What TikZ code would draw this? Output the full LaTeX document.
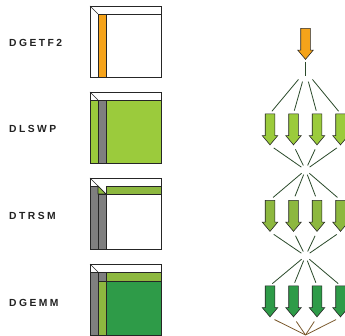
\documentclass[tikz,border=0pt]{standalone}
\usepackage{fontspec}
\newfontfamily\labfont{Liberation Sans}[LetterSpace=24,UprightFont=*-Bold]
\usetikzlibrary{shapes.arrows}
\definecolor{cOrange}{HTML}{F5A31A}
\definecolor{cLight}{HTML}{9BCB3C}
\definecolor{cMid}{HTML}{8DB83F}
\definecolor{cDark}{HTML}{2E9B48}
\definecolor{cGray}{HTML}{7F7F7F}
\definecolor{cLine}{HTML}{2B4A2B}
\definecolor{cBrown}{HTML}{7B5A2E}
\definecolor{cText}{HTML}{222222}
\tikzset{
  lab/.style={anchor=west,inner sep=0pt,text=cText,font=\labfont\fontsize{10.3}{11}\selectfont},
  matbox/.style={draw=black!85,line width=0.7pt,minimum width=71pt,minimum height=71pt,inner sep=0pt,anchor=north west},
  mline/.style={draw=black!85,line width=0.6pt},
  arr/.style={shape=single arrow,rotate=-90,minimum height=31pt,minimum width=15pt,
    single arrow head extend=3pt,single arrow head indent=0pt,single arrow tip angle=80,
    inner xsep=0pt,inner ysep=4.5pt,draw=black!85,line width=0.6pt},
  fan/.style={draw=cLine,line width=0.8pt},
  bfan/.style={draw=cBrown,line width=0.8pt}
}
\begin{document}
\begin{tikzpicture}[x=1pt,y=-1pt]
\useasboundingbox[fill=white] (0,0) rectangle (345,336);

% labels
\node[lab] (l1) at (9,43) {DGETF2};
\node[lab] (l2) at (9,129.2) {DLSWP};
\node[lab] (l3) at (9,216) {DTRSM};
\node[lab] (l4) at (9,302.7) {DGEMM};

% DGETF2
\begin{scope}[shift={(90,6)}]
  \filldraw[mline,fill=cOrange] (8,8) rectangle (16,71);
  \draw[mline] (8,8) -- (71,8);
  \draw[mline] (0,0) -- (8,8);
  \node[matbox] (m1) at (0,0) {};
\end{scope}

% DLSWP
\begin{scope}[shift={(90,92)}]
  \filldraw[mline,fill=cLight] (0,8) rectangle (71,71);
  \filldraw[mline,fill=cGray] (8,8) rectangle (16,71);
  \draw[mline] (0,0) -- (8,8);
  \node[matbox] (m2) at (0,0) {};
\end{scope}

% DTRSM
\begin{scope}[shift={(90,178)}]
  \filldraw[mline,fill=cGray] (0,8) rectangle (8,71);
  \filldraw[mline,fill=cGray] (8,16) rectangle (16,71);
  \filldraw[mline,fill=cMid] (8,8) -- (8,16) -- (16,16) -- cycle;
  \filldraw[mline,fill=cMid] (16,8) rectangle (71,16);
  \draw[mline] (0,0) -- (16,16);
  \node[matbox] (m3) at (0,0) {};
\end{scope}

% DGEMM
\begin{scope}[shift={(90,264)}]
  \filldraw[mline,fill=cGray] (0,8) rectangle (8,71);
  \filldraw[mline,fill=cGray] (8,8) rectangle (16,17);
  \filldraw[mline,fill=cMid] (8,17) rectangle (16,71);
  \filldraw[mline,fill=cMid] (16,8) rectangle (71,17);
  \filldraw[mline,fill=cDark] (16,17) rectangle (71,71);
  \draw[mline] (0,0) -- (8,8);
  \node[matbox] (m4) at (0,0) {};
\end{scope}

% arrows
\node[arr,fill=cOrange] (a0) at (305.5,41) {};
\foreach \i/\x in {1/270,2/293.5,3/317,4/340.5}{
  \node[arr,fill=cLight] (a1\i) at (\x,126.5) {};
  \node[arr,fill=cMid] (a2\i) at (\x,213) {};
  \node[arr,fill=cDark] (a3\i) at (\x,298.5) {};
}

% hubs
\coordinate (stem) at (305.5,76.5);
\coordinate (h1) at (305.5,71);
\coordinate (h2) at (305.5,170);
\coordinate (h3) at (305.5,256);
\coordinate (h4) at (305.5,335);

\draw[fan,shorten <=2pt] (a0.tip) -- (stem);
\foreach \i in {1,2,3,4}{
  \draw[fan,shorten <=11pt,shorten >=3pt] (h1) -- (a1\i.tail);
  \draw[fan,shorten <=4.5pt,shorten >=5pt] (a1\i.tip) -- (h2);
  \draw[fan,shorten <=5pt,shorten >=4pt] (h2) -- (a2\i.tail);
  \draw[fan,shorten <=4.5pt,shorten >=5pt] (a2\i.tip) -- (h3);
  \draw[fan,shorten <=5pt,shorten >=3pt] (h3) -- (a3\i.tail);
  \draw[bfan,shorten <=5pt] (a3\i.tip) -- (h4);
}
\end{tikzpicture}
\end{document}
